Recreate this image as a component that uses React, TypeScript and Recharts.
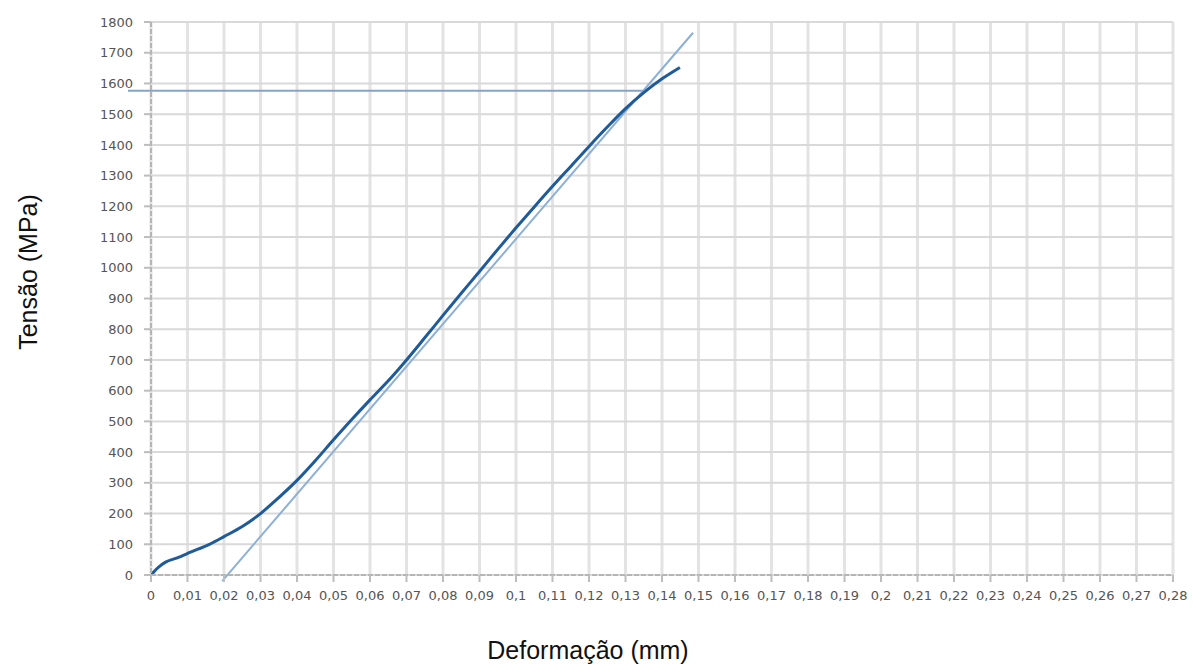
import React from 'react';
import { ComposedChart, Line, XAxis, YAxis, CartesianGrid, ReferenceLine } from 'recharts';

// measured stress–strain curve
const strain = [
  0, 0.002, 0.004, 0.007, 0.011, 0.016, 0.02, 0.025, 0.03, 0.035, 0.04, 0.045, 0.05, 0.055,
  0.06, 0.065, 0.07, 0.075, 0.08, 0.085, 0.09, 0.095, 0.1, 0.105, 0.11, 0.115, 0.12, 0.125,
  0.13, 0.135, 0.14, 0.1449,
];
const stress = [
  0, 25, 42, 55, 75, 100, 125, 158, 200, 252, 308, 372, 440, 506,
  570, 632, 700, 772, 845, 917, 988, 1060, 1130, 1198, 1265, 1330, 1395, 1458,
  1518, 1570, 1615, 1652,
];

// offset (parallel) line and yield level
const offsetStrain = [0.0195, 0.1485];
const offsetStress = [-20, 1765];
const yieldStrain = [-0.0063, 0.1348];
const yieldStress = 1576;

const xTicks = [
  0, 0.01, 0.02, 0.03, 0.04, 0.05, 0.06, 0.07, 0.08, 0.09, 0.1, 0.11, 0.12, 0.13, 0.14,
  0.15, 0.16, 0.17, 0.18, 0.19, 0.2, 0.21, 0.22, 0.23, 0.24, 0.25, 0.26, 0.27, 0.28,
];
const yTicks = [
  0, 100, 200, 300, 400, 500, 600, 700, 800, 900, 1000, 1100, 1200, 1300, 1400, 1500, 1600, 1700, 1800,
];

const curve = strain.map((x, i) => ({ x, y: stress[i] }));

const fmt = (v: number) => String(v).replace('.', ',');

const tickStyle = { fontSize: 13, fill: '#555', fontFamily: '"DejaVu Sans", sans-serif' };
const titleFont = '"Liberation Sans", Arial, sans-serif';

export default function App() {
  return (
    <div style={{ position: 'absolute', left: 0, top: 0, width: 1193, height: 664, background: '#fff' }}>
      <ComposedChart width={1193} height={664} margin={{ top: 22, right: 20, bottom: 0, left: 0 }}>
        <CartesianGrid horizontal={false} stroke="#e3e3e3" strokeWidth={3} />
        <CartesianGrid vertical={false} stroke="#d9d9d9" strokeWidth={2} />
        <XAxis
          type="number"
          dataKey="x"
          domain={[0, 0.28]}
          ticks={xTicks}
          interval={0}
          tickFormatter={fmt}
          tick={tickStyle}
          tickSize={7}
          tickMargin={9}
          axisLine={{ stroke: '#b5b5b5', strokeWidth: 2, strokeDasharray: '5 2' }}
          tickLine={{ stroke: '#bdbdbd', strokeWidth: 2 }}
          height={89}
          allowDataOverflow
        />
        <YAxis
          type="number"
          domain={[0, 1800]}
          ticks={yTicks}
          interval={0}
          tick={tickStyle}
          tickSize={7}
          tickMargin={11}
          axisLine={{ stroke: '#b5b5b5', strokeWidth: 2, strokeDasharray: '5 2' }}
          tickLine={{ stroke: '#bdbdbd', strokeWidth: 2 }}
          width={151}
          allowDataOverflow
        />
        <ReferenceLine
          segment={[
            { x: yieldStrain[0], y: yieldStress },
            { x: yieldStrain[1], y: yieldStress },
          ]}
          stroke="#86a5c6"
          strokeWidth={2}
          ifOverflow="visible"
        />
        <ReferenceLine
          segment={[
            { x: offsetStrain[0], y: offsetStress[0] },
            { x: offsetStrain[1], y: offsetStress[1] },
          ]}
          stroke="#8db0d6"
          strokeWidth={2}
          ifOverflow="visible"
        />
        <Line
          data={curve}
          dataKey="y"
          type="monotone"
          stroke="#1f5b98"
          strokeWidth={3}
          dot={false}
          isAnimationActive={false}
        />
      </ComposedChart>
      <svg
        width={1193}
        height={664}
        style={{ position: 'absolute', left: 0, top: 0, pointerEvents: 'none' }}
      >
        <text
          x={37}
          y={272}
          transform="rotate(-90 37 272)"
          textAnchor="middle"
          fontSize={25}
          fontFamily={titleFont}
          fill="#111"
        >
          Tensão (MPa)
        </text>
        <text x={588} y={659} textAnchor="middle" fontSize={25} fontFamily={titleFont} fill="#111">
          Deformação (mm)
        </text>
      </svg>
    </div>
  );
}
